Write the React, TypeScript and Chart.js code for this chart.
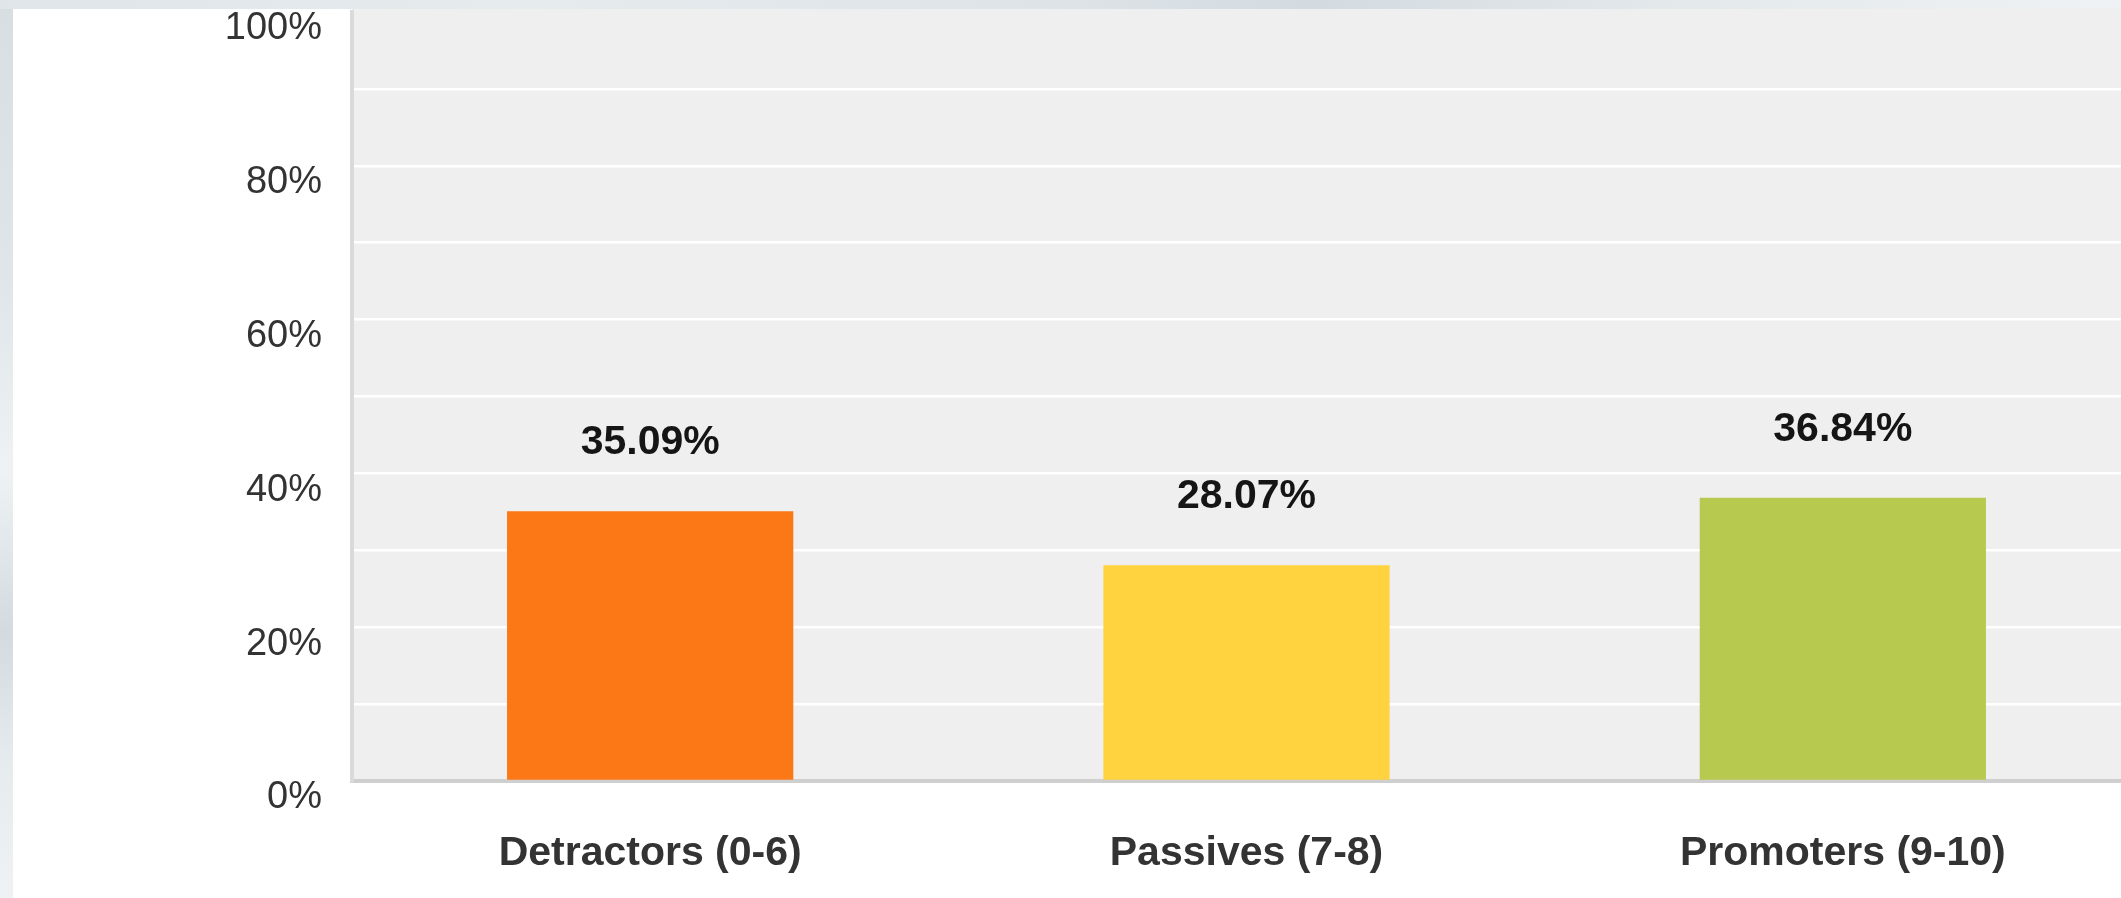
import React, { useEffect, useRef } from 'react';
import { Chart, registerables } from 'chart.js';

Chart.register(...registerables);

const categories = ['Detractors (0-6)', 'Passives (7-8)', 'Promoters (9-10)'];
const values = [35.09, 28.07, 36.84];
const valueLabels = ['35.09%', '28.07%', '36.84%'];
const barColors = ['#fc7716', '#fed33f', '#b7c94f'];
const yLabelValues = [0, 20, 40, 60, 80, 100];

const FONT = "'Liberation Sans', Arial, sans-serif";

const bgPlugin = {
  id: 'bgPlugin',
  beforeDraw(chart: any) {
    const { ctx, chartArea, width, height } = chart;
    ctx.save();
    ctx.fillStyle = '#ffffff';
    ctx.fillRect(0, 0, width, height);
    ctx.fillStyle = '#efefef';
    ctx.fillRect(chartArea.left, 0, chartArea.right - chartArea.left, chartArea.bottom);
    ctx.restore();
  },
};

const valueLabelPlugin = {
  id: 'valueLabelPlugin',
  afterDatasetsDraw(chart: any) {
    const { ctx } = chart;
    const meta = chart.getDatasetMeta(0);
    ctx.save();
    ctx.font = `bold 41px ${FONT}`;
    ctx.fillStyle = '#151515';
    ctx.textAlign = 'center';
    ctx.textBaseline = 'middle';
    meta.data.forEach((bar: any, i: number) => {
      ctx.fillText(valueLabels[i], bar.x, bar.y - 68);
    });
    ctx.restore();
  },
};

export default function App() {
  const ref = useRef<HTMLCanvasElement | null>(null);

  useEffect(() => {
    if (!ref.current) return;
    const chart = new Chart(ref.current, {
      type: 'bar',
      data: {
        labels: categories,
        datasets: [
          {
            data: values,
            backgroundColor: barColors,
            borderWidth: 0,
            barPercentage: 0.48,
            categoryPercentage: 1,
          },
        ],
      },
      options: {
        animation: false,
        responsive: false,
        layout: { padding: { top: 3, left: 0, right: 0, bottom: 0 } },
        plugins: {
          legend: { display: false },
          tooltip: { enabled: false },
        },
        scales: {
          x: {
            grid: { display: false, drawTicks: false },
            border: { display: true, color: '#cfcfcf', width: 4 },
            ticks: {
              font: { family: FONT, size: 41, weight: 'bold' },
              color: '#333333',
              padding: 48,
              maxRotation: 0,
              autoSkip: false,
            },
            afterFit: (s: any) => {
              s.height = 117;
              s.paddingLeft = 0;
              s.paddingRight = 0;
            },
          },
          y: {
            min: 0,
            max: 100,
            ticks: {
              stepSize: 10,
              autoSkip: false,
              callback: (v: any) => (yLabelValues.includes(Number(v)) ? `${v}%` : ''),
              font: { family: FONT, size: 38 },
              color: '#333333',
              padding: 30,
              align: 'start',
              labelOffset: -2,
            },
            grid: {
              color: (c: any) =>
                c.tick && (c.tick.value === 0 || c.tick.value === 100) ? 'rgba(0,0,0,0)' : '#ffffff',
              lineWidth: 2.5,
              drawTicks: false,
            },
            border: { display: true, color: '#dadada', width: 4 },
            afterFit: (s: any) => {
              s.width = 339;
              s.paddingTop = 0;
              s.paddingBottom = 0;
            },
          },
        },
      } as any,
      plugins: [bgPlugin, valueLabelPlugin],
    });
    return () => chart.destroy();
  }, []);

  return (
    <div
      style={{
        position: 'fixed',
        left: 0,
        top: 0,
        width: 2121,
        height: 898,
        overflow: 'hidden',
        background:
          'linear-gradient(90deg, #dfe5e9 0%, #e6ebee 25%, #dde3e7 50%, #d4dbe0 62%, #e4e9ec 80%, #eef2f4 100%)',
      }}
    >
      <div
        style={{
          position: 'absolute',
          left: 0,
          top: 9,
          width: 13,
          height: 889,
          background:
            'linear-gradient(180deg, #d8dfe3 0%, #dfe5e9 30%, #eef2f4 52%, #d3dbe0 70%, #e6ebee 85%, #eef2f4 100%)',
        }}
      />
      <canvas
        ref={ref}
        width={2128}
        height={889}
        style={{ position: 'absolute', left: 13, top: 9, width: 2128, height: 889, display: 'block' }}
      />
    </div>
  );
}
